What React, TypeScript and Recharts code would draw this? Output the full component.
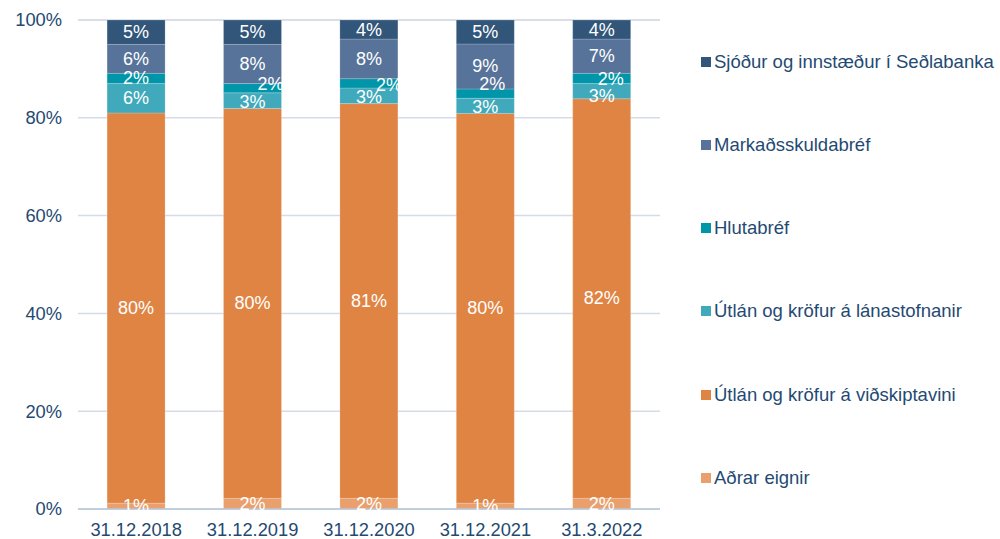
import React from "react";
import { BarChart, Bar, XAxis, YAxis, CartesianGrid, LabelList } from "recharts";

const categories = ["31.12.2018", "31.12.2019", "31.12.2020", "31.12.2021", "31.3.2022"];

// shares in %, stacked bottom to top
const adrarEignir = [1.2, 2.2, 2.2, 1.2, 2.2];
const utlanVidskiptavini = [79.8, 79.7, 80.7, 79.7, 81.7];
const utlanLanastofnanir = [6.0, 3.2, 3.2, 3.1, 3.1];
const hlutabref = [2.1, 1.9, 1.9, 1.9, 2.1];
const markadsskuldabref = [5.9, 8.0, 8.1, 9.2, 7.0];
const sjodur = [5.0, 5.0, 3.9, 4.9, 3.9];

const yTicks = [0, 20, 40, 60, 80, 100];

const series = [
  { key: "adrar", name: "Aðrar eignir", values: adrarEignir, color: "#e9a06c" },
  { key: "vidskipta", name: "Útlán og kröfur á viðskiptavini", values: utlanVidskiptavini, color: "#e08444" },
  { key: "lana", name: "Útlán og kröfur á lánastofnanir", values: utlanLanastofnanir, color: "#40a9bb" },
  { key: "hluta", name: "Hlutabréf", values: hlutabref, color: "#0095a8" },
  { key: "markads", name: "Markaðsskuldabréf", values: markadsskuldabref, color: "#57739a" },
  { key: "sjodur", name: "Sjóður og innstæður í Seðlabanka", values: sjodur, color: "#32557a" },
];

// label nudges (dx, dy) where labels were moved to avoid overlap
const labelNudge: Record<string, number[][]> = {
  hluta: [[0, 0], [18, -4], [20, 2], [7, -10], [9, 1]],
  lana: [[0, 0], [0, 1], [0, 1], [0, 1], [0, 5]],
};

const data = categories.map((cat, i) => {
  const row: Record<string, string | number> = { cat };
  series.forEach((s) => {
    row[s.key] = s.values[i];
  });
  return row;
});

const textColor = "#1f4a72";
const font = "'Liberation Sans', Arial, sans-serif";

const makeLabel = (key: string) => (props: any) => {
  const { x, y, width, height, value, index } = props;
  const nudge = (labelNudge[key] && labelNudge[key][index]) || [0, 0];
  return (
    <text
      x={Number(x) + Number(width) / 2 + nudge[0]}
      y={Number(y) + Number(height) / 2 + nudge[1]}
      textAnchor="middle"
      dominantBaseline="central"
      fill="#ffffff"
      fontSize={18}
      fontFamily={font}
    >
      {Math.round(Number(value))}%
    </text>
  );
};

export default function App() {
  return (
    <div style={{ position: "absolute", left: 0, top: 0, width: 1000, height: 539, background: "#fff", fontFamily: font }}>
      <BarChart
        width={670}
        height={539}
        data={data}
        margin={{ top: 20, right: 10, left: 0, bottom: 0 }}
        barCategoryGap="25%"
      >
        <CartesianGrid vertical={false} stroke="#d6dce5" strokeWidth={1.5} />
        <XAxis
          dataKey="cat"
          height={30}
          axisLine={{ stroke: "#b7c6d8", strokeWidth: 1.5 }}
          tickLine={false}
          tickMargin={8}
          tick={{ fill: textColor, fontSize: 18.3, fontFamily: font }}
        />
        <YAxis
          width={78}
          domain={[0, 100]}
          ticks={yTicks}
          tickFormatter={(v) => `${v}%`}
          axisLine={false}
          tickLine={false}
          tickMargin={10}
          tick={{ fill: textColor, fontSize: 18.3, fontFamily: font }}
        />
        {series.map((s) => (
          <Bar
            key={s.key}
            dataKey={s.key}
            name={s.name}
            stackId="a"
            fill={s.color}
            stroke="#ffffff"
            strokeOpacity={0.25}
            strokeWidth={0.75}
            isAnimationActive={false}
          >
            <LabelList dataKey={s.key} content={makeLabel(s.key)} />
          </Bar>
        ))}
      </BarChart>
      <div style={{ position: "absolute", left: 701, top: 50 }}>
        {[...series].reverse().map((s) => (
          <div
            key={s.key}
            style={{ display: "flex", alignItems: "center", height: 23, marginBottom: 60.3, color: textColor, fontSize: 18.5, whiteSpace: "nowrap" }}
          >
            <span style={{ display: "inline-block", width: 10, height: 10, background: s.color, marginRight: 3 }} />
            {s.name}
          </div>
        ))}
      </div>
    </div>
  );
}
